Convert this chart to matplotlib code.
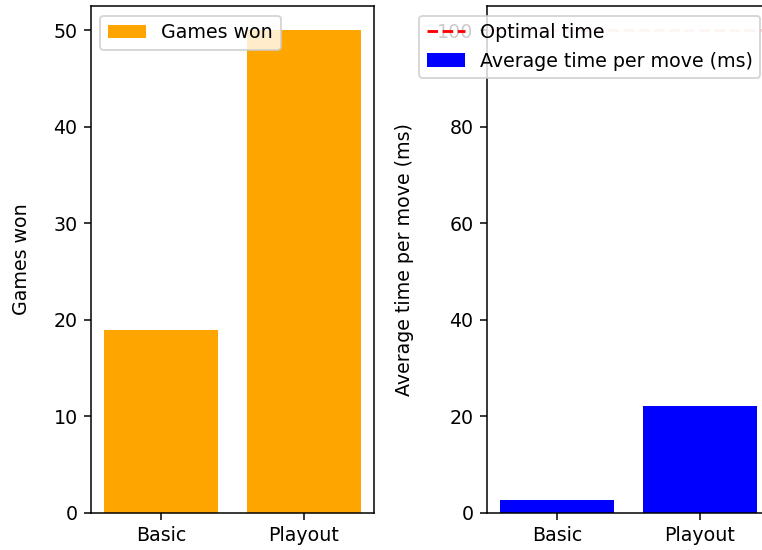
import matplotlib
matplotlib.use('Agg')
import matplotlib.pyplot as plt

methods = ['Basic', 'Playout']
games_won = [19, 50]
avg_time = [2.7, 22.1]
optimal_time = 100

dpi = 137
fig = plt.figure(figsize=(762 / dpi, 550 / dpi), dpi=dpi)
ax1 = fig.add_axes([0.1194, 0.0673, 0.3714, 0.9218])
ax2 = fig.add_axes([0.6391, 0.0673, 0.3714, 0.9218])

ax1.bar(methods, games_won, color='orange', label='Games won')
ax1.set_ylabel('Games won', labelpad=12)
ax1.legend(loc='upper left')

ax2.axhline(optimal_time, color='r', linestyle='--', alpha=0.2, label='Optimal time')
ax2.bar(methods, avg_time, color='blue', label='Average time per move (ms)')
ax2.set_ylabel('Average time per move (ms)', labelpad=12)
leg = ax2.legend(loc='upper right')
leg.legend_handles[0].set_alpha(1)

fig.savefig('out.png', dpi=dpi)
